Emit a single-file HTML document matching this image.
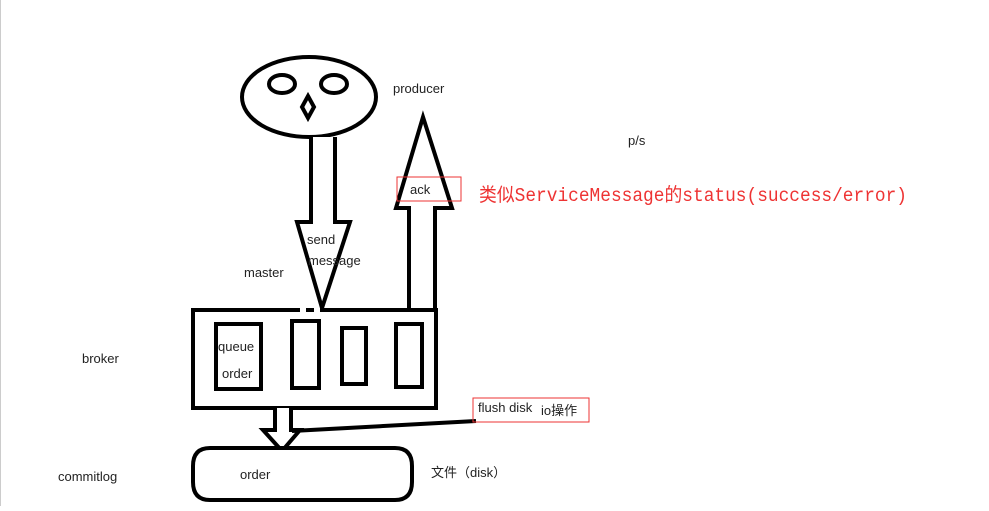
<!DOCTYPE html>
<html><head><style>
body{margin:0;background:#fff;}
svg text{font-family:"Liberation Sans","Noto Sans CJK SC",sans-serif;font-size:13px;fill:#222;}
</style></head><body>
<svg width="989" height="506" xmlns="http://www.w3.org/2000/svg">
<rect width="989" height="506" fill="#fff"/>
<line x1="0.5" y1="0" x2="0.5" y2="506" stroke="#ccc"/>
<g fill="#fff" stroke="#000" stroke-width="4" stroke-linejoin="miter">
<ellipse cx="309" cy="97" rx="67" ry="40"/>
<ellipse cx="282" cy="84" rx="13" ry="9"/>
<ellipse cx="334" cy="84" rx="13" ry="9"/>
<polygon points="308,96 314,107 308,118 302,107"/>
<polyline points="311,137 311,222 297,222 322,308 350,222 335,222 335,137"/>
<polyline points="409,308 409,208 396,208 423,117 452,208 435,208 435,308"/>
<polyline points="300,310 193,310 193,408 436,408 436,310 320,310"/>
<line x1="306" y1="310" x2="314" y2="310"/>
<rect x="216" y="324" width="45" height="65"/>
<rect x="292" y="321" width="27" height="67"/>
<rect x="342" y="328" width="24" height="56"/>
<rect x="396" y="324" width="26" height="63"/>
<polyline points="275,408 275,430 263,430 282,451 300,430 291,430 291,408"/>
<line x1="292" y1="431" x2="476" y2="421"/>
<path d="M210,448 L395,448 Q412,448 412,466 L412,482 Q412,500 395,500 L210,500 Q193,500 193,482 L193,466 Q193,448 210,448 Z"/>
</g>
<rect x="397" y="177" width="64" height="24" fill="none" stroke="#e33" stroke-width="1"/>
<rect x="473" y="398" width="116" height="24" fill="none" stroke="#e33" stroke-width="1"/>
<text x="393" y="93">producer</text>
<text x="628" y="145">p/s</text>
<text x="410" y="194">ack</text>
<text x="479" y="201" textLength="428" lengthAdjust="spacingAndGlyphs" style="font-size:19px;fill:#e33;font-family:'Liberation Mono','Noto Sans CJK SC',monospace">类似ServiceMessage的status(success/error)</text>
<text x="307" y="244">send</text>
<text x="308" y="265">message</text>
<text x="244" y="277">master</text>
<text x="82" y="363">broker</text>
<text x="218" y="351">queue</text>
<text x="222" y="378">order</text>
<text x="478" y="412">flush disk</text>
<text x="541" y="415">io操作</text>
<text x="58" y="481">commitlog</text>
<text x="240" y="479">order</text>
<text x="431" y="477">文件（disk）</text>
</svg>
</body></html>
